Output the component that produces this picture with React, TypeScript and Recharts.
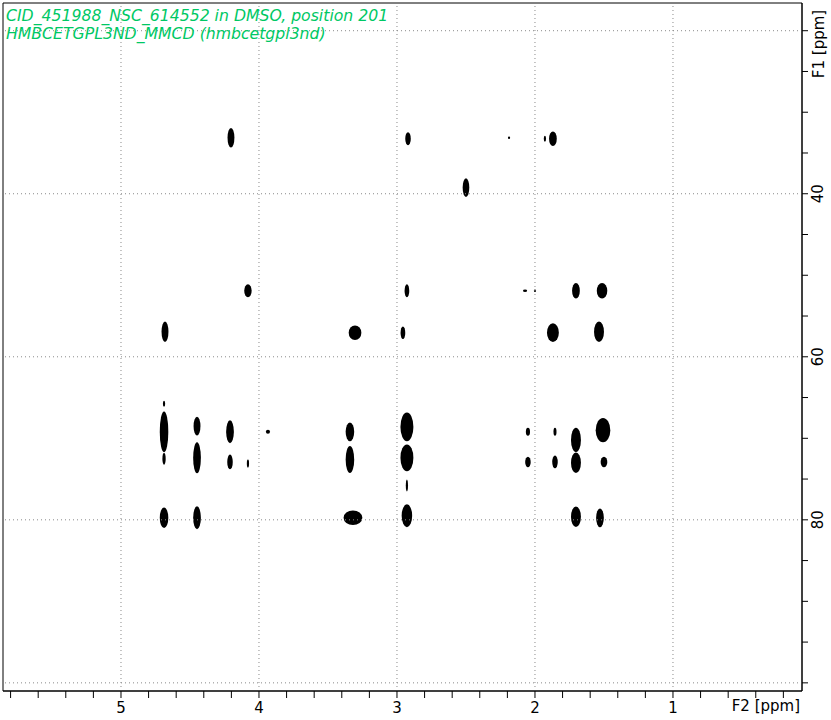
import { ScatterChart, Scatter, XAxis, YAxis, ReferenceArea, ReferenceLine } from 'recharts'

const TITLE_LINES = ['CID_451988_NSC_614552 in DMSO, position 201', 'HMBCETGPL3ND_MMCD (hmbcetgpl3nd)']

// cross peaks: F2 (1H) and F1 (13C) position in ppm, half extents in ppm
const PEAK_F2 = [
  4.203, 2.92, 2.188, 1.928, 1.87, 2.5,
  4.08, 2.928, 2.072, 2.0, 1.703, 1.514,
  4.681, 3.304, 2.957, 1.87, 1.536,
  4.688, 4.688, 4.688, 4.449, 4.449, 4.21, 4.21, 4.08, 3.935,
  3.341, 3.341, 2.928, 2.928, 2.928, 2.051, 2.051, 1.855, 1.855,
  1.703, 1.703, 1.507, 1.5,
  4.688, 4.449, 3.319, 2.928, 1.703, 1.529,
]
const PEAK_F1 = [
  33.13, 33.25, 33.13, 33.25, 33.25, 39.26,
  51.9, 51.9, 51.9, 51.9, 51.9, 51.9,
  56.93, 57.05, 57.05, 57.05, 56.93,
  69.2, 65.77, 72.5, 68.5, 72.4, 69.2, 72.9, 73.1, 69.2,
  69.2, 72.6, 68.6, 72.4, 75.8, 69.2, 72.9, 69.2, 72.9,
  70.2, 73.0, 69.0, 72.9,
  79.75, 79.75, 79.75, 79.5, 79.63, 79.75,
]
const PEAK_DF2 = [
  0.025, 0.02, 0.008, 0.008, 0.028, 0.024,
  0.027, 0.017, 0.015, 0.008, 0.028, 0.038,
  0.025, 0.046, 0.017, 0.043, 0.036,
  0.031, 0.008, 0.012, 0.025, 0.028, 0.028, 0.02, 0.008, 0.015,
  0.031, 0.031, 0.047, 0.047, 0.008, 0.015, 0.02, 0.011, 0.02,
  0.036, 0.036, 0.053, 0.024,
  0.031, 0.028, 0.068, 0.038, 0.036, 0.028,
]
const PEAK_DF1 = [
  1.2, 0.8, 0.15, 0.37, 0.9, 1.15,
  0.8, 0.8, 0.15, 0.15, 0.95, 0.95,
  1.25, 0.9, 0.78, 1.15, 1.25,
  2.5, 0.37, 0.74, 1.15, 1.9, 1.4, 0.9, 0.5, 0.25,
  1.15, 1.65, 1.75, 1.65, 0.74, 0.5, 0.65, 0.5, 0.78,
  1.5, 1.25, 1.5, 0.65,
  1.25, 1.4, 0.9, 1.4, 1.25, 1.15,
]

const X_TICKS = [5.8, 5.6, 5.4, 5.2, 5, 4.8, 4.6, 4.4, 4.2, 4, 3.8, 3.6, 3.4, 3.2, 3, 2.8, 2.6, 2.4, 2.2, 2, 1.8, 1.6, 1.4, 1.2, 1, 0.8, 0.6, 0.4, 0.2]
const X_LABELS = [5, 4, 3, 2, 1]
const Y_TICKS = [20, 25, 30, 35, 40, 45, 50, 55, 60, 65, 70, 75, 80, 85, 90, 95, 100]
const Y_LABELS = [40, 60, 80]
const Y_GRID = [20, 40, 60, 80, 100]

const X_DOMAIN: [number, number] = [0.065, 5.855]
const Y_DOMAIN: [number, number] = [16.6, 101]

const FONT = '"DejaVu Sans", sans-serif'

const peaks = PEAK_F2.map((f2, i) => ({ f2, f1: PEAK_F1[i], df2: PEAK_DF2[i], df1: PEAK_DF1[i] }))

function Blob(props: any) {
  const { x, y, width, height } = props
  return <ellipse cx={x + width / 2} cy={y + height / 2} rx={Math.max(width / 2, 0.8)} ry={Math.max(height / 2, 0.8)} fill="#000" />
}

function XTick({ x, y, payload }: any) {
  const major = X_LABELS.includes(payload.value)
  return (
    <g>
      <line x1={x} x2={x} y1={y} y2={y + 7} stroke="#000" />
      {major && (
        <text x={x} y={y + 22} textAnchor="middle" fontSize={15} fontFamily={FONT} fill="#000">
          {payload.value}
        </text>
      )}
    </g>
  )
}

function YTick({ x, y, payload }: any) {
  const major = Y_LABELS.includes(payload.value)
  return (
    <g>
      <line x1={x} x2={x + 6} y1={y} y2={y} stroke="#000" />
      {major && (
        <text
          x={x + 16}
          y={y}
          transform={`rotate(-90 ${x + 16} ${y})`}
          textAnchor="middle"
          dominantBaseline="central"
          fontSize={15}
          fontFamily={FONT}
          fill="#000"
        >
          {payload.value}
        </text>
      )}
    </g>
  )
}

export default function App() {
  return (
    <div style={{ position: 'absolute', left: 0, top: 0, width: 831, height: 720, background: '#fff' }}>
      <ScatterChart width={831} height={720} margin={{ top: 3, right: 0, bottom: 0, left: 3 }}>
        <XAxis
          type="number"
          dataKey="f2"
          domain={X_DOMAIN}
          reversed
          allowDataOverflow
          ticks={X_TICKS}
          interval={0}
          height={29}
          tickSize={0}
          tickMargin={0}
          tickLine={false}
          axisLine={{ stroke: '#000' }}
          tick={<XTick />}
        />
        <YAxis
          type="number"
          dataKey="f1"
          orientation="right"
          domain={Y_DOMAIN}
          reversed
          allowDataOverflow
          ticks={Y_TICKS}
          interval={0}
          width={29}
          tickSize={0}
          tickMargin={0}
          tickLine={false}
          axisLine={{ stroke: '#000' }}
          tick={<YTick />}
        />
        {X_LABELS.map((v) => (
          <ReferenceLine key={'gx' + v} x={v} stroke="#8a8a8a" strokeDasharray="1 3" />
        ))}
        {Y_GRID.map((v) => (
          <ReferenceLine key={'gy' + v} y={v} stroke="#8a8a8a" strokeDasharray="1 3" />
        ))}
        {peaks.map((p, i) => (
          <ReferenceArea
            key={'pk' + i}
            x1={p.f2 - p.df2}
            x2={p.f2 + p.df2}
            y1={p.f1 - p.df1}
            y2={p.f1 + p.df1}
            shape={Blob}
          />
        ))}
        <ReferenceArea x1={X_DOMAIN[0]} x2={X_DOMAIN[1]} y1={Y_DOMAIN[0]} y2={Y_DOMAIN[1]} fill="none" stroke="#000" fillOpacity={0} />
        <Scatter data={peaks} isAnimationActive={false} shape={() => <g />} />
      </ScatterChart>
      <svg width={831} height={720} style={{ position: 'absolute', left: 0, top: 0, pointerEvents: 'none' }}>
        {TITLE_LINES.map((t, i) => (
          <text key={t} x={6} y={21 + i * 18} fontSize={15.7} fontStyle="italic" fontFamily={FONT} fill="#00c864">
            {t}
          </text>
        ))}
        <text x={800} y={711} textAnchor="end" fontSize={15} fontFamily={FONT} fill="#000">
          F2 [ppm]
        </text>
        <text x={819} y={44} transform="rotate(-90 819 44)" textAnchor="middle" dominantBaseline="central" fontSize={15} fontFamily={FONT} fill="#000">
          F1 [ppm]
        </text>
      </svg>
    </div>
  )
}
